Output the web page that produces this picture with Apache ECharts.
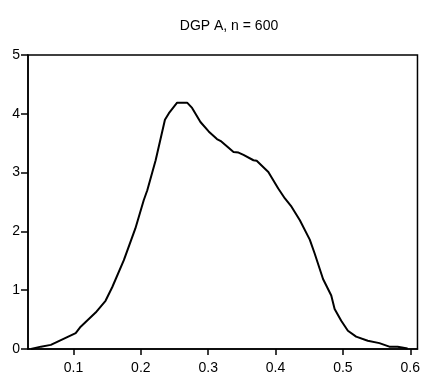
<!DOCTYPE html>
<html>
<head>
<meta charset="utf-8">
<script src="https://cdn.jsdelivr.net/npm/echarts@6/dist/echarts.min.js"></script>
<style>html,body{margin:0;padding:0;background:#fff}#c{width:423px;height:378px}</style>
</head>
<body>
<div id="c"></div>
<script>
var titleText = 'DGP A, n = 600';
var xValues = [0.0369,0.0517,0.0664,0.1033,0.1107,0.1329,0.1476,0.1575,0.1748,0.1919,0.2043,0.2096,0.2220,0.2358,0.2417,0.2539,0.2687,0.2761,0.2885,0.3007,0.3130,0.3195,0.3376,0.3450,0.3524,0.3672,0.3720,0.3893,0.4040,0.4139,0.4237,0.4361,0.4508,0.4582,0.4705,0.4827,0.4877,0.4975,0.5074,0.5196,0.5369,0.5542,0.5689,0.5812,0.5960];
var densityValues = [0.00,0.04,0.07,0.27,0.38,0.62,0.82,1.05,1.51,2.05,2.53,2.70,3.21,3.90,4.01,4.19,4.19,4.10,3.86,3.70,3.57,3.53,3.35,3.34,3.30,3.21,3.20,3.01,2.73,2.56,2.42,2.19,1.86,1.62,1.19,0.91,0.68,0.48,0.31,0.21,0.14,0.10,0.04,0.04,0.01];
var xTickLabels = [0.1,0.2,0.3,0.4,0.5,0.6];
var yTickLabels = [0,1,2,3,4,5];

var data = xValues.map(function(x,i){return [x, densityValues[i]];});
var chart = echarts.init(document.getElementById('c'), null, {renderer:'canvas'});
var font = 'Liberation Sans, Arial, sans-serif';
chart.setOption({
  animation:false,
  backgroundColor:'#fff',
  title:{text:titleText,left:224,textAlign:'center',top:14,textStyle:{fontFamily:font,fontSize:14,fontWeight:'normal',color:'#000'}},
  grid:{left:28,right:3,top:55,bottom:29,show:true,borderColor:'#000',borderWidth:1.5,backgroundColor:'transparent'},
  xAxis:{type:'value',min:0.0325,max:0.6107,
    axisLine:{show:true,lineStyle:{color:'#000',width:1.5}},
    axisTick:{show:true,length:6,lineStyle:{color:'#000',width:1.5},customValues:xTickLabels},
    axisLabel:{color:'#000',fontFamily:font,fontSize:14,margin:12,customValues:xTickLabels,formatter:function(v){return String(v);}},
    splitLine:{show:false}},
  yAxis:{type:'value',min:0,max:5,interval:1,
    axisLine:{show:true,lineStyle:{color:'#000',width:1.5}},
    axisTick:{show:true,length:7,lineStyle:{color:'#000',width:1.5},customValues:yTickLabels},
    axisLabel:{color:'#000',fontFamily:font,fontSize:14,margin:8,customValues:yTickLabels},
    splitLine:{show:false}},
  series:[{type:'line',data:data,showSymbol:false,smooth:false,lineStyle:{color:'#000',width:2}}]
});
</script>
</body>
</html>
